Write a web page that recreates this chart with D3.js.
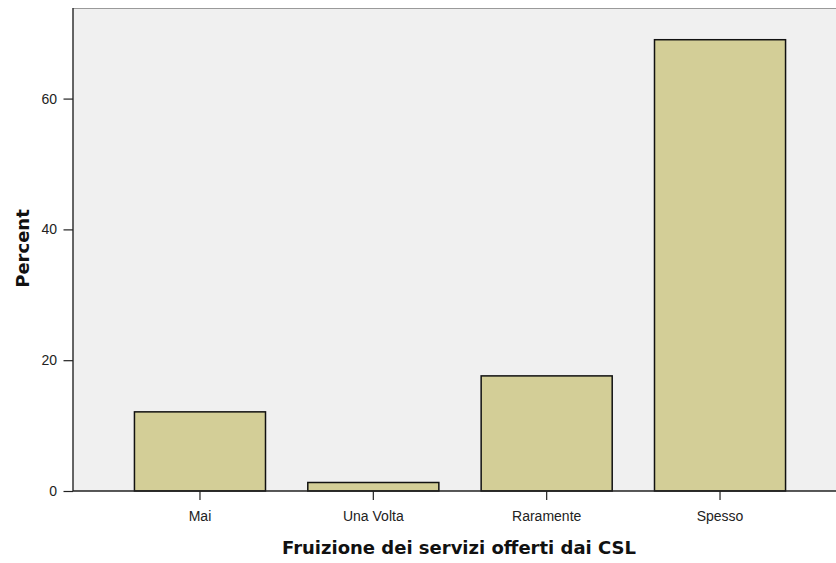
<!DOCTYPE html>
<html><head><meta charset="utf-8">
<script src="https://cdn.jsdelivr.net/npm/d3@7"></script>
<style>body{margin:0;background:#fff}svg{display:block}</style>
</head><body>
<svg id="c" width="836" height="563"></svg>
<script>
const categories = ["Mai", "Una Volta", "Raramente", "Spesso"];
const percentValues = [12.1, 1.3, 17.6, 69.0];
const yTicks = [0, 20, 40, 60];
const xTitle = "Fruizione dei servizi offerti dai CSL";
const yTitle = "Percent";

(function () {
const svg = d3.select("#c");
const pL = 73, pT = 8, pB = 491, pR = 836;
const y = d3.scaleLinear().domain([0, 73.85]).range([pB, pT]);
const x = d3.scaleBand().domain(categories).range([113.3, 806.7]).paddingInner(0.244).paddingOuter(0.122);

svg.append("rect").attr("x", pL).attr("y", pT).attr("width", pR - pL + 5).attr("height", pB - pT).attr("fill", "#f0f0f0");
svg.append("line").attr("x1", pL).attr("x2", pR).attr("y1", pT + 0.5).attr("y2", pT + 0.5).attr("stroke", "#9a9a9a").attr("stroke-width", 1.2);

svg.selectAll("rect.bar").data(categories).enter().append("rect").attr("class", "bar")
  .attr("x", d => x(d)).attr("width", x.bandwidth())
  .attr("y", (d, i) => y(percentValues[i])).attr("height", (d, i) => y(0) - y(percentValues[i]))
  .attr("fill", "#d3ce97").attr("stroke", "#111").attr("stroke-width", 1.5);

const yAxis = svg.append("g").attr("transform", `translate(${pL},0)`)
  .call(d3.axisLeft(y).tickValues(yTicks).tickSize(9.5).tickPadding(6.5).tickFormat(d3.format("d")));
yAxis.select(".domain").attr("d", `M0,${pT}V${pB}`).attr("stroke", "#333").attr("stroke-width", 1.5);
yAxis.selectAll(".tick line").attr("stroke", "#222").attr("stroke-width", 1.2);
yAxis.selectAll("text").attr("font-family", "Liberation Sans, Arial, sans-serif").attr("font-size", 14).attr("fill", "#222");

const xAxis = svg.append("g").attr("transform", `translate(0,${pB})`)
  .call(d3.axisBottom(x).tickSize(9).tickPadding(11));
xAxis.select(".domain").attr("d", `M${pL},0H${pR}`).attr("stroke", "#222").attr("stroke-width", 1.5);
xAxis.selectAll(".tick line").attr("stroke", "#222").attr("stroke-width", 1.2);
xAxis.selectAll("text").attr("font-family", "Liberation Sans, Arial, sans-serif").attr("font-size", 14).attr("fill", "#222");

svg.append("text").attr("x", 459).attr("y", 554).attr("text-anchor", "middle")
  .attr("font-family", "DejaVu Sans, sans-serif").attr("font-weight", "bold").attr("font-size", 18).attr("fill", "#111").text(xTitle);
svg.append("text").attr("transform", "translate(28.5,248.5) rotate(-90)").attr("text-anchor", "middle")
  .attr("font-family", "DejaVu Sans, sans-serif").attr("font-weight", "bold").attr("font-size", 18).attr("fill", "#111").text(yTitle);
})();
</script>
</body></html>
